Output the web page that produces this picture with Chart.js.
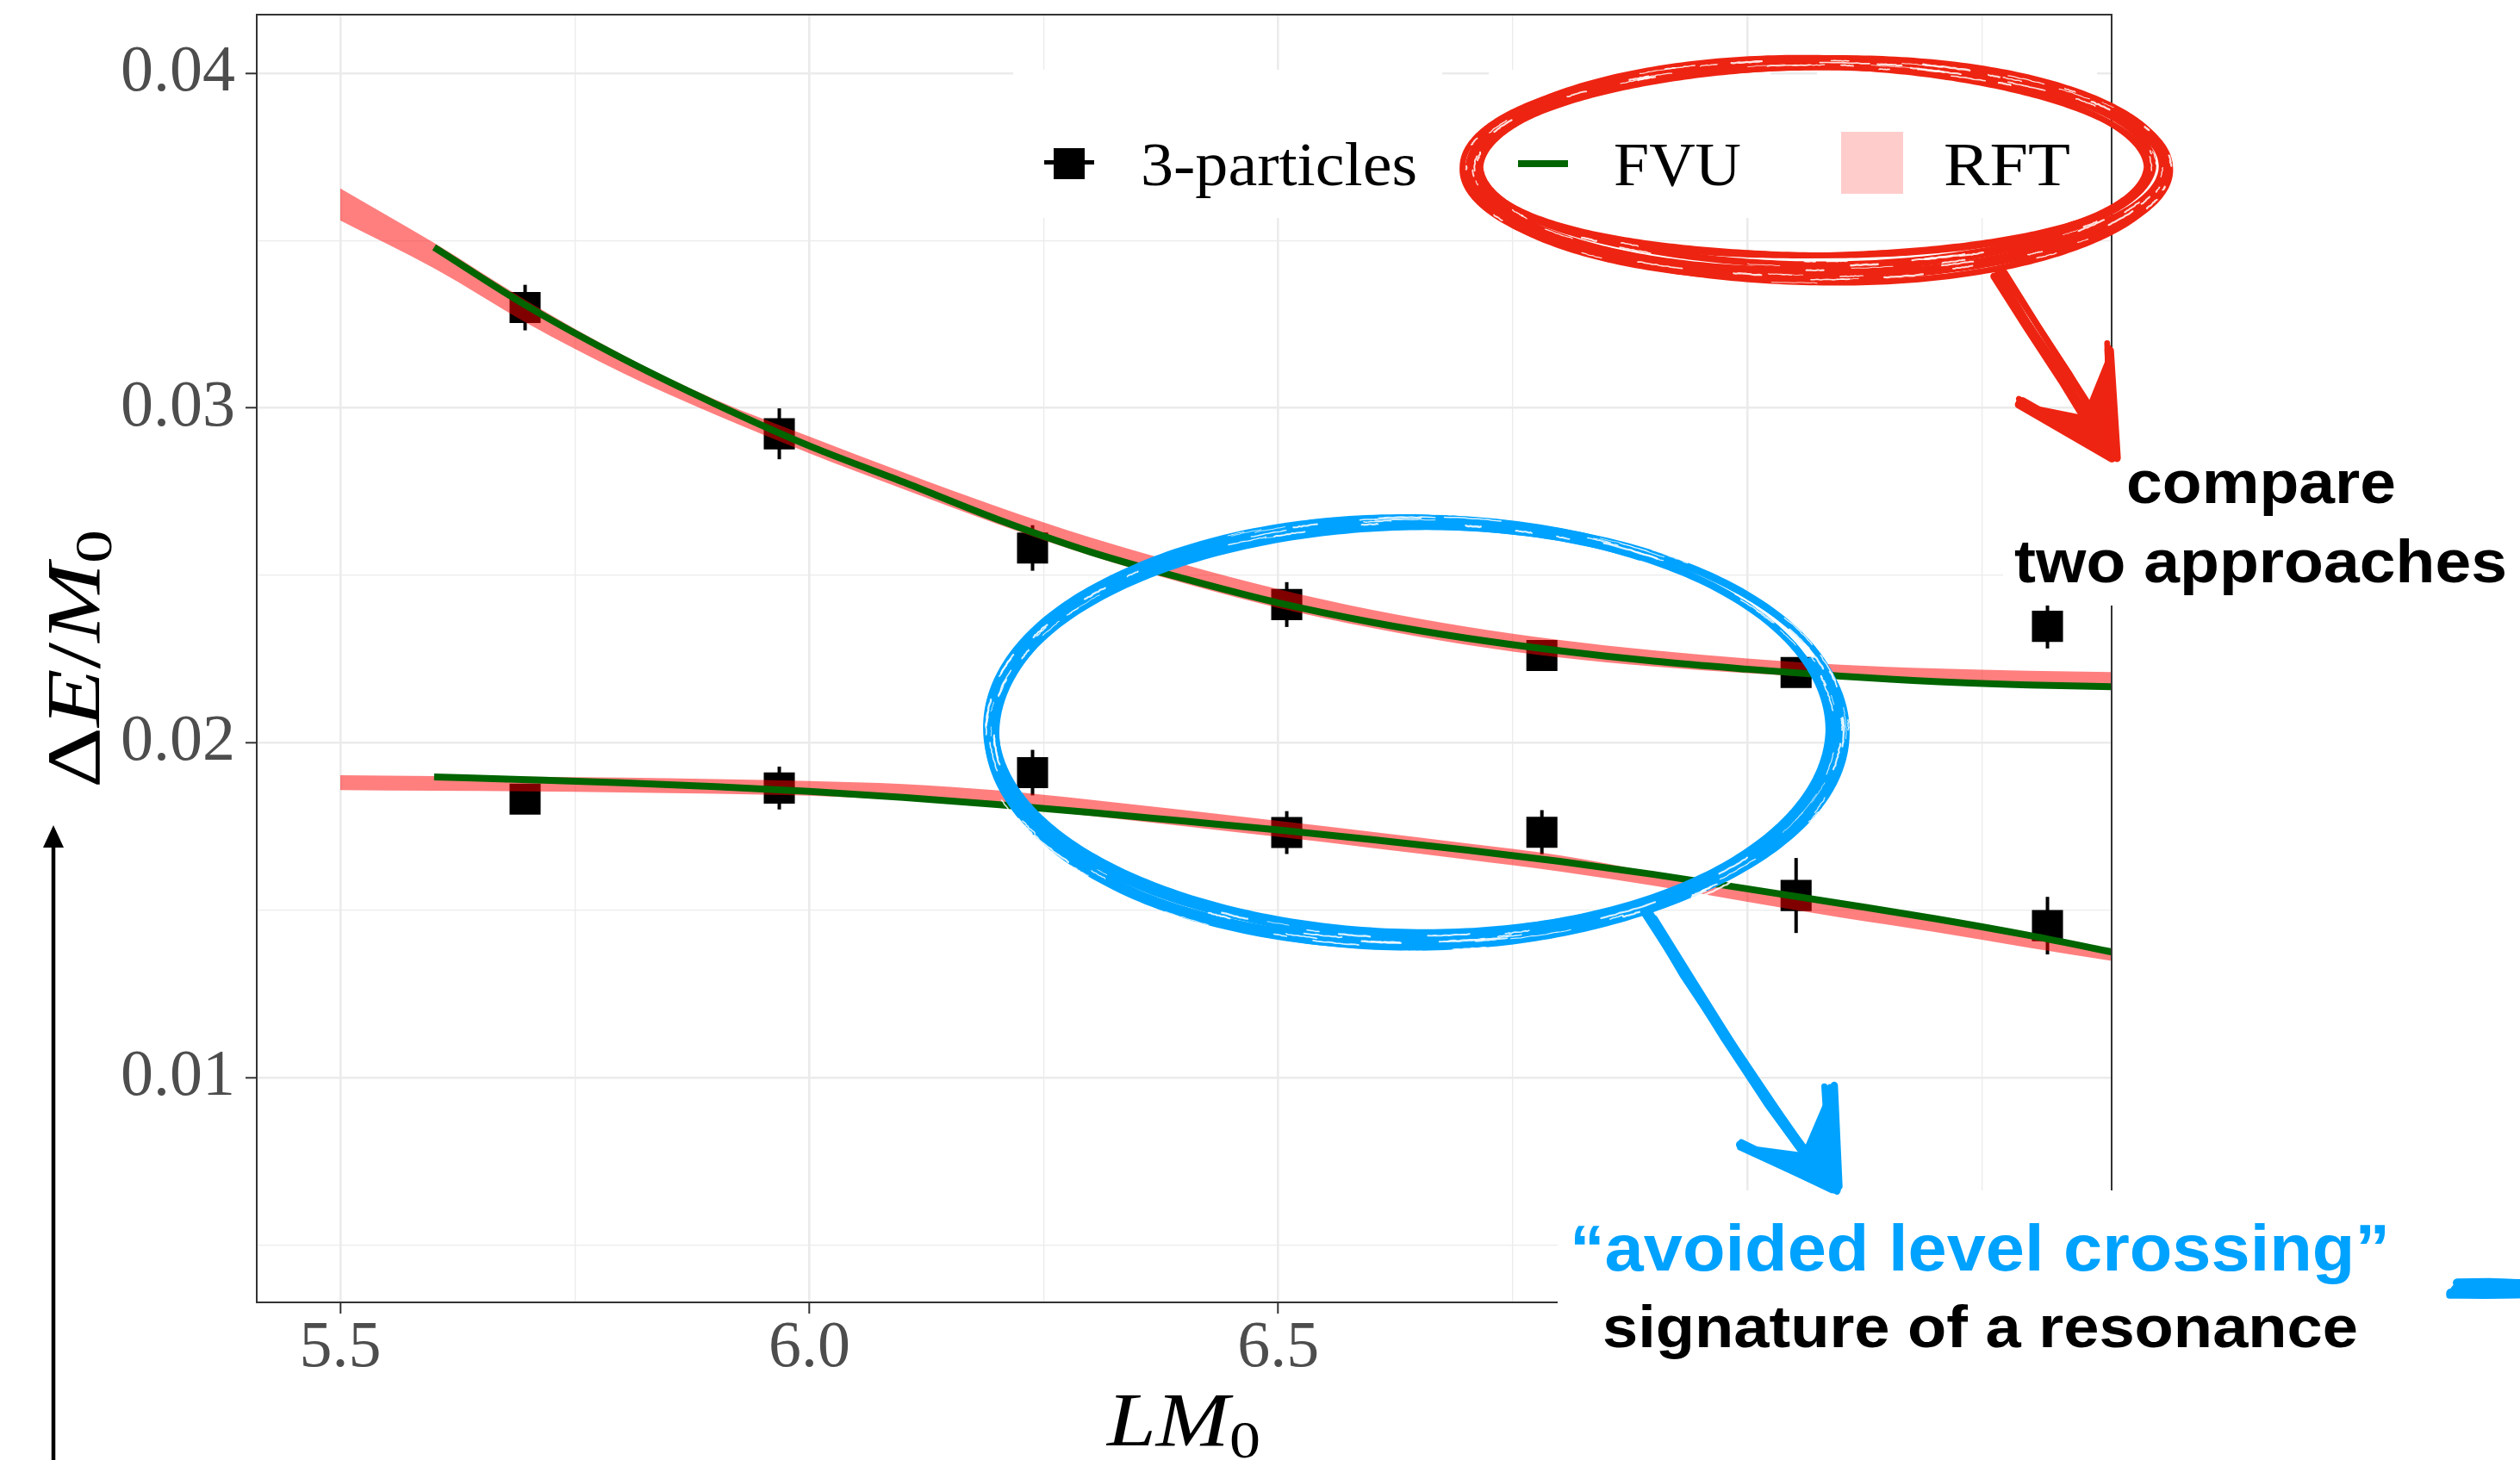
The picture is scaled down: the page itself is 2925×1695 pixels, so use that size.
<!DOCTYPE html>
<html>
<head>
<meta charset="utf-8">
<script src="https://cdn.jsdelivr.net/npm/chart.js@4.4.1/dist/chart.umd.min.js"></script>
<style>
  html, body { margin: 0; padding: 0; background: #ffffff; }
  canvas { display: block; }
</style>
</head>
<body>
<canvas id="c" width="2925" height="1695"></canvas>
<script>
// ---- data -------------------------------------------------------------
const SERIES_NAMES = ['3-particles', 'FVU', 'RFT'];

// lattice points (L*M0) and energy shifts of the two lowest levels
const L_DATA = [5.697, 5.968, 6.238, 6.509, 6.781, 7.052, 7.320];
const E_UPPER = [0.03300, 0.02923, 0.02582, 0.02413, 0.02261, 0.02210, 0.02348];
const E_UPPER_ERR = [0.00068, 0.00076, 0.00068, 0.00067, 0.00030, 0.00030, 0.00066];
const E_LOWER = [0.01832, 0.01865, 0.01911, 0.01732, 0.01733, 0.01544, 0.01454];
const E_LOWER_ERR = [0.00030, 0.00064, 0.00068, 0.00064, 0.00066, 0.00112, 0.00086];

// FVU prediction curves
const L_FVU = [5.6, 5.7, 5.8, 5.9, 6.0, 6.1, 6.2, 6.3, 6.4, 6.5, 6.6, 6.7, 6.8, 6.9, 7.0, 7.1, 7.2, 7.3, 7.4];
const FVU_UPPER = [0.03480, 0.03303, 0.03149, 0.03012, 0.02887, 0.02779, 0.02668, 0.02570, 0.02490, 0.02418,
                   0.02360, 0.02313, 0.02275, 0.02244, 0.02220, 0.02199, 0.02183, 0.02173, 0.02167];
const FVU_LOWER = [0.01898, 0.01890, 0.01881, 0.01869, 0.01855, 0.01837, 0.01816, 0.01792, 0.01766, 0.01740,
                   0.01711, 0.01680, 0.01646, 0.01607, 0.01564, 0.01520, 0.01475, 0.01425, 0.01369];

// RFT prediction bands (lower / upper edge)
const L_RFT = [5.5, 5.6, 5.7, 5.8, 5.9, 6.0, 6.1, 6.2, 6.3, 6.4, 6.5, 6.6, 6.7, 6.8, 6.9, 7.0, 7.1, 7.2, 7.3, 7.4];
const RFT_UPPER_LO = [0.03560, 0.03417, 0.03252, 0.03106, 0.02980, 0.02865, 0.02758, 0.02654, 0.02559, 0.02476,
                      0.02403, 0.02343, 0.02293, 0.02255, 0.02228, 0.02208, 0.02193, 0.02184, 0.02179, 0.02175];
const RFT_UPPER_HI = [0.03656, 0.03493, 0.03318, 0.03160, 0.03025, 0.02915, 0.02808, 0.02706, 0.02613, 0.02532,
                      0.02459, 0.02397, 0.02347, 0.02307, 0.02276, 0.02252, 0.02233, 0.02222, 0.02215, 0.02211];
const RFT_LOWER_LO = [0.01859, 0.01857, 0.01855, 0.01852, 0.01848, 0.01842, 0.01829, 0.01810, 0.01782, 0.01751,
                      0.01719, 0.01686, 0.01652, 0.01616, 0.01573, 0.01525, 0.01478, 0.01435, 0.01388, 0.01344];
const RFT_LOWER_HI = [0.01903, 0.01901, 0.01899, 0.01896, 0.01892, 0.01886, 0.01877, 0.01858, 0.01830, 0.01799,
                      0.01767, 0.01734, 0.01700, 0.01664, 0.01613, 0.01565, 0.01518, 0.01467, 0.01420, 0.01376];

// axes
const X_MIN = 5.4109, X_MAX = 7.3884;
const Y_MIN = 0.003288, Y_MAX = 0.041749;
const X_TICKS = [5.5, 5.75, 6.0, 6.25, 6.5, 6.75, 7.0, 7.25];
const Y_TICKS = [0.005, 0.01, 0.015, 0.02, 0.025, 0.03, 0.035, 0.04];

// ---- styling helpers --------------------------------------------------
const SERIF = '"Liberation Serif", "DejaVu Serif", serif';
const SANS = '"Liberation Sans", Arial, Helvetica, sans-serif';
const RED_INK = '#EE2412';
const BLUE_INK = '#00A2FF';
const FVU_GREEN = '#006400';
const RFT_FILL = 'rgba(255,0,0,0.5)';

const isMajorX = v => Math.abs(v * 2 - Math.round(v * 2)) < 1e-6;
const isMajorY = v => Math.abs(v * 100 - Math.round(v * 100)) < 1e-6;
const toXY = (xs, ys) => xs.map((x, i) => ({ x: x, y: ys[i] }));

function seeded(seed) {
  let s = seed % 2147483647;
  if (s <= 0) s += 2147483646;
  return () => { s = (s * 16807) % 2147483647; return (s - 1) / 2147483646; };
}

// text squeezed/stretched horizontally to a given width
function fitText(ctx, text, x, y, width, font, color) {
  ctx.save();
  ctx.font = font;
  ctx.fillStyle = color;
  ctx.textBaseline = 'alphabetic';
  ctx.textAlign = 'left';
  const w = ctx.measureText(text).width;
  ctx.translate(x, y);
  ctx.scale(width / w, 1);
  ctx.fillText(text, 0, 0);
  ctx.restore();
}

// math-style label: list of runs {t, font, dy}
function mathRuns(ctx, runs, width) {
  let total = 0;
  runs.forEach(r => { ctx.font = r.font; r.w = ctx.measureText(r.t).width; total += r.w; });
  const sx = width / total;
  ctx.save();
  ctx.scale(sx, 1);
  let x = -total / 2;
  ctx.fillStyle = '#000';
  ctx.textBaseline = 'alphabetic';
  ctx.textAlign = 'left';
  runs.forEach(r => { ctx.font = r.font; ctx.fillText(r.t, x, r.dy || 0); x += r.w; });
  ctx.restore();
}

// hand-drawn looking ellipse made of several brush strokes
function brushEllipse(ctx, o) {
  const rnd = seeded(o.seed);
  const ringPoint = (a, d) => [o.cx + (o.rx + d) * Math.cos(a), o.cy + (o.ry + d * 0.7) * Math.sin(a)];
  const spreadAt = a => o.spread + o.spreadBottom * Math.max(0, Math.sin(a)) + (o.spreadRight || 0) * Math.max(0, Math.cos(a));
  ctx.save();
  ctx.strokeStyle = o.color;
  ctx.lineCap = 'round';
  ctx.lineJoin = 'round';
  for (let s = 0; s < o.strokes; s++) {
    const off = rnd() - 0.5;
    const lw = o.lw[0] + rnd() * (o.lw[1] - o.lw[0]);
    const start = rnd() * Math.PI * 2;
    const span = Math.PI * 2 * (1.0 + rnd() * 0.12);
    const ph = rnd() * 6.28;
    const skipGap = o.gap && (s % 3 !== 0);
    ctx.lineWidth = lw;
    ctx.beginPath();
    const n = 360;
    let pen = false;
    for (let i = 0; i <= n; i++) {
      const a = start + span * i / n;
      const an = Math.atan2(Math.sin(a), Math.cos(a));
      if (skipGap && an > o.gap[0] && an < o.gap[1]) { pen = false; continue; }
      const d = off * spreadAt(a) + Math.sin(a * 3 + ph) * o.wobble;
      const p = ringPoint(a, d);
      if (pen) ctx.lineTo(p[0], p[1]); else { ctx.moveTo(p[0], p[1]); pen = true; }
    }
    ctx.stroke();
  }
  // dry-brush streaks
  ctx.strokeStyle = 'rgba(255,255,255,0.85)';
  for (let k = 0; k < o.streaks; k++) {
    const a0 = rnd() * Math.PI * 2;
    const len = 0.03 + rnd() * 0.12;
    const d = (rnd() - 0.5) * spreadAt(a0) * 0.8;
    ctx.lineWidth = 0.8 + rnd() * 1.6;
    ctx.beginPath();
    for (let i = 0; i <= 12; i++) {
      const p = ringPoint(a0 + len * i / 12, d + (rnd() - 0.5) * 1.2);
      if (i) ctx.lineTo(p[0], p[1]); else ctx.moveTo(p[0], p[1]);
    }
    ctx.stroke();
  }
  ctx.restore();
}

function brushLine(ctx, pts, color, seed, n, spread, lw) {
  const rnd = seeded(seed);
  ctx.save();
  ctx.strokeStyle = color;
  ctx.lineCap = 'round';
  ctx.lineJoin = 'round';
  for (let s = 0; s < n; s++) {
    const ox = (rnd() - 0.5) * spread, oy = (rnd() - 0.5) * spread;
    ctx.lineWidth = lw[0] + rnd() * (lw[1] - lw[0]);
    ctx.beginPath();
    pts.forEach((p, i) => {
      const x = p[0] + ox + (rnd() - 0.5) * 3, y = p[1] + oy + (rnd() - 0.5) * 3;
      if (i) ctx.lineTo(x, y); else ctx.moveTo(x, y);
    });
    ctx.stroke();
  }
  ctx.restore();
}

function arrowHead(ctx, poly, color, seed) {
  ctx.save();
  ctx.fillStyle = color;
  ctx.beginPath();
  poly.forEach((p, i) => i ? ctx.lineTo(p[0], p[1]) : ctx.moveTo(p[0], p[1]));
  ctx.closePath();
  ctx.fill();
  ctx.restore();
  const t = poly[0];
  brushLine(ctx, [poly[1], t], color, seed, 4, 10, [6, 10]);
  brushLine(ctx, [poly[3], t], color, seed + 7, 4, 10, [6, 10]);
}

// ---- plugins ----------------------------------------------------------
const whiteBackground = {
  id: 'whiteBackground',
  beforeDraw(chart) {
    const ctx = chart.ctx;
    ctx.save();
    ctx.fillStyle = '#ffffff';
    ctx.fillRect(0, 0, chart.width, chart.height);
    ctx.restore();
  }
};

const errorBars = {
  id: 'errorBars',
  afterDatasetDraw(chart, args) {
    const ds = chart.data.datasets[args.index];
    if (!ds.errors) return;
    const ctx = chart.ctx, xs = chart.scales.x, ys = chart.scales.y;
    ctx.save();
    ctx.strokeStyle = '#000';
    ctx.lineWidth = 4;
    ds.data.forEach((p, i) => {
      const px = xs.getPixelForValue(p.x);
      ctx.beginPath();
      ctx.moveTo(px, ys.getPixelForValue(p.y - ds.errors[i]));
      ctx.lineTo(px, ys.getPixelForValue(p.y + ds.errors[i]));
      ctx.stroke();
    });
    ctx.restore();
  }
};

const panelBorder = {
  id: 'panelBorder',
  afterDatasetsDraw(chart) {
    const a = chart.chartArea, ctx = chart.ctx;
    ctx.save();
    ctx.strokeStyle = '#333333';
    ctx.lineWidth = 2;
    ctx.strokeRect(a.left, a.top, a.right - a.left, a.bottom - a.top);
    ctx.restore();
  }
};

const decorations = {
  id: 'decorations',
  afterDraw(chart) {
    const ctx = chart.ctx;
    ctx.save();

    // legend: one box per guide
    ctx.fillStyle = '#ffffff';
    ctx.fillRect(1176, 81, 498, 172);
    ctx.fillRect(1728, 81, 327, 172);
    ctx.fillRect(2109, 81, 325, 172);
    ctx.fillStyle = '#000';
    ctx.fillRect(1212, 186, 58, 5);
    ctx.fillRect(1223, 172, 36, 36);
    ctx.fillStyle = FVU_GREEN;
    ctx.fillRect(1762, 186, 58, 8);
    ctx.fillStyle = '#FFCCCC';
    ctx.fillRect(2137, 153, 72, 72);
    fitText(ctx, SERIES_NAMES[0], 1324, 215, 321, '72px ' + SERIF, '#000');
    fitText(ctx, SERIES_NAMES[1], 1873, 215, 148, '72px ' + SERIF, '#000');
    fitText(ctx, SERIES_NAMES[2], 2256, 215, 147, '72px ' + SERIF, '#000');

    // note panels
    ctx.fillStyle = '#ffffff';
    ctx.fillRect(2325, 530, 600, 173);
    ctx.fillRect(1808, 1382, 1117, 313);

    // red note around the legend
    brushEllipse(ctx, { cx: 2108, cy: 194, rx: 401, ry: 122, color: RED_INK, seed: 11,
      strokes: 9, lw: [5, 9], spread: 20, spreadBottom: 32, spreadRight: 10, wobble: 3, streaks: 90 });
    brushLine(ctx, [[2322, 318], [2360, 378], [2400, 440], [2432, 492]], RED_INK, 5, 6, 14, [6, 9]);
    arrowHead(ctx, [[2456, 528], [2348, 468], [2418, 482], [2450, 403]], RED_INK, 21);

    // blue note around the level crossing
    brushEllipse(ctx, { cx: 1642, cy: 849, rx: 495, ry: 246, color: BLUE_INK, seed: 37,
      strokes: 9, lw: [5, 9], spread: 22, spreadBottom: 14, wobble: 3, gap: [-1.0, -0.35], streaks: 110 });
    brushLine(ctx, [[1916, 1062], [1960, 1135], [2010, 1212], [2058, 1285], [2096, 1338]], BLUE_INK, 9, 6, 14, [6, 9]);
    arrowHead(ctx, [[2130, 1380], [2024, 1329], [2092, 1338], [2124, 1263]], BLUE_INK, 41);
    brushLine(ctx, [[2852, 1497], [2890, 1496], [2930, 1497]], BLUE_INK, 53, 7, 16, [8, 12]);

    // note texts
    fitText(ctx, 'compare', 2468, 584, 313, 'bold 70px ' + SANS, '#000');
    fitText(ctx, 'two approaches', 2338, 676, 572, 'bold 70px ' + SANS, '#000');
    fitText(ctx, '\u201Cavoided level crossing\u201D', 1822, 1475, 952, 'bold 76px ' + SANS, BLUE_INK);
    fitText(ctx, 'signature of a resonance', 1860, 1564, 877, 'bold 68px ' + SANS, '#000');

    // axis titles
    const it = 'italic 88px ' + SERIF, up = '88px ' + SERIF, sub = '62px ' + SERIF;
    ctx.save();
    ctx.translate(1374, 1678);
    mathRuns(ctx, [{ t: 'LM', font: it }, { t: '0', font: sub, dy: 14 }], 178);
    ctx.restore();
    ctx.save();
    ctx.translate(115, 765);
    ctx.rotate(-Math.PI / 2);
    mathRuns(ctx, [{ t: '\u0394', font: up }, { t: 'E', font: it }, { t: '/', font: up },
                   { t: 'M', font: it }, { t: '0', font: sub, dy: 14 }], 300);
    ctx.restore();

    // arrow along the left edge
    ctx.strokeStyle = '#000';
    ctx.lineWidth = 4.5;
    ctx.beginPath();
    ctx.moveTo(62, 1700);
    ctx.lineTo(62, 978);
    ctx.stroke();
    ctx.fillStyle = '#000';
    ctx.beginPath();
    ctx.moveTo(62, 958);
    ctx.lineTo(50, 984);
    ctx.lineTo(74, 984);
    ctx.closePath();
    ctx.fill();

    ctx.restore();
  }
};

// ---- chart ------------------------------------------------------------
const lineDefaults = { type: 'line', pointRadius: 0, cubicInterpolationMode: 'monotone', clip: 0 };

new Chart(document.getElementById('c'), {
  type: 'line',
  data: {
    datasets: [
      Object.assign({}, lineDefaults, { label: SERIES_NAMES[1], data: toXY(L_FVU, FVU_UPPER),
        borderColor: FVU_GREEN, borderWidth: 8, fill: false, order: 0 }),
      Object.assign({}, lineDefaults, { label: SERIES_NAMES[1], data: toXY(L_FVU, FVU_LOWER),
        borderColor: FVU_GREEN, borderWidth: 8, fill: false, order: 0 }),
      Object.assign({}, lineDefaults, { label: SERIES_NAMES[2], data: toXY(L_RFT, RFT_UPPER_HI),
        borderColor: 'rgba(0,0,0,0)', borderWidth: 0, backgroundColor: RFT_FILL, fill: '+1', order: 5 }),
      Object.assign({}, lineDefaults, { label: SERIES_NAMES[2], data: toXY(L_RFT, RFT_UPPER_LO),
        borderColor: 'rgba(0,0,0,0)', borderWidth: 0, fill: false, order: 6 }),
      Object.assign({}, lineDefaults, { label: SERIES_NAMES[2], data: toXY(L_RFT, RFT_LOWER_HI),
        borderColor: 'rgba(0,0,0,0)', borderWidth: 0, backgroundColor: RFT_FILL, fill: '+1', order: 5 }),
      Object.assign({}, lineDefaults, { label: SERIES_NAMES[2], data: toXY(L_RFT, RFT_LOWER_LO),
        borderColor: 'rgba(0,0,0,0)', borderWidth: 0, fill: false, order: 6 }),
      { type: 'scatter', label: SERIES_NAMES[0], data: toXY(L_DATA, E_UPPER), errors: E_UPPER_ERR,
        pointStyle: 'rect', pointRadius: 25.5, backgroundColor: '#000', borderWidth: 0, order: 10 },
      { type: 'scatter', label: SERIES_NAMES[0], data: toXY(L_DATA, E_LOWER), errors: E_LOWER_ERR,
        pointStyle: 'rect', pointRadius: 25.5, backgroundColor: '#000', borderWidth: 0, order: 10 }
    ]
  },
  options: {
    responsive: false,
    animation: false,
    events: [],
    layout: { autoPadding: false, padding: { left: 0, top: 17, right: 474, bottom: 0 } },
    plugins: { legend: { display: false }, tooltip: { enabled: false } },
    scales: {
      x: {
        type: 'linear', min: X_MIN, max: X_MAX,
        afterBuildTicks: s => { s.ticks = X_TICKS.map(v => ({ value: v })); },
        afterFit: s => { s.height = 183; s.paddingLeft = 0; s.paddingRight = 0; },
        border: { display: false },
        grid: {
          color: '#EBEBEB',
          lineWidth: c => (c.tick && isMajorX(c.tick.value)) ? 2.6 : 1.3,
          drawTicks: true, tickLength: 13, tickWidth: 2,
          tickColor: c => (c.tick && isMajorX(c.tick.value)) ? '#333333' : 'rgba(0,0,0,0)'
        },
        ticks: {
          autoSkip: false, maxRotation: 0, minRotation: 0, padding: 3, color: '#4D4D4D',
          font: { family: SERIF, size: 76, lineHeight: 1 },
          callback: v => isMajorX(v) ? v.toFixed(1) : ''
        }
      },
      y: {
        type: 'linear', min: Y_MIN, max: Y_MAX,
        afterBuildTicks: s => { s.ticks = Y_TICKS.map(v => ({ value: v })); },
        afterFit: s => { s.width = 298; s.paddingTop = 0; s.paddingBottom = 0; },
        border: { display: false },
        grid: {
          color: '#EBEBEB',
          lineWidth: c => (c.tick && isMajorY(c.tick.value)) ? 2.6 : 1.3,
          drawTicks: true, tickLength: 13, tickWidth: 2,
          tickColor: c => (c.tick && isMajorY(c.tick.value)) ? '#333333' : 'rgba(0,0,0,0)'
        },
        ticks: {
          autoSkip: false, padding: 12, color: '#4D4D4D',
          font: { family: SERIF, size: 76, lineHeight: 1 },
          callback: v => isMajorY(v) ? v.toFixed(2) : ''
        }
      }
    }
  },
  plugins: [whiteBackground, errorBars, panelBorder, decorations]
});
</script>
</body>
</html>
